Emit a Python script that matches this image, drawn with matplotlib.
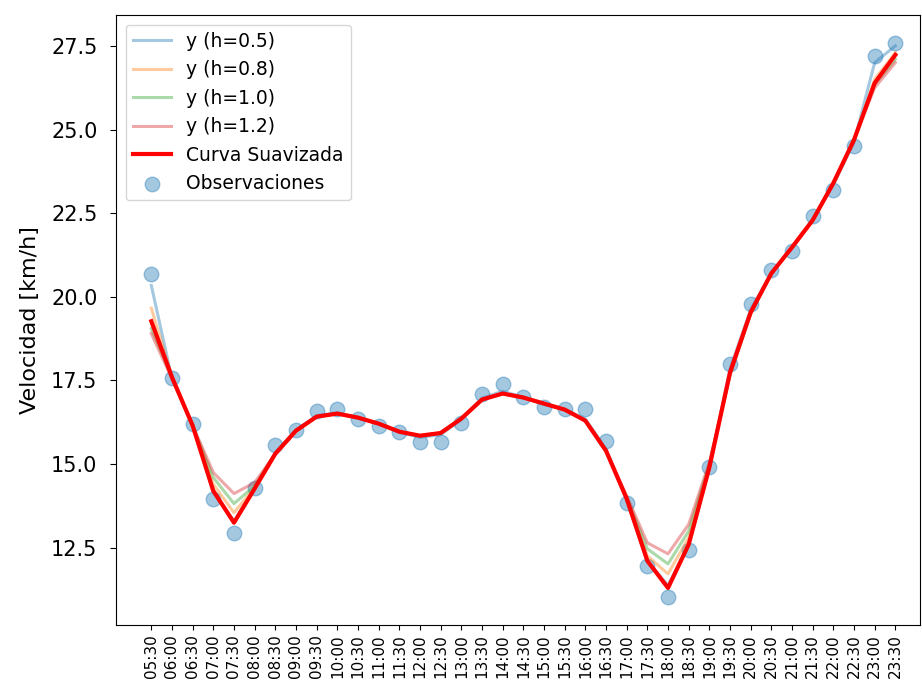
import numpy as np
import matplotlib
matplotlib.use("Agg")
import matplotlib.pyplot as plt

horas = ["05:30", "06:00", "06:30", "07:00", "07:30", "08:00", "08:30", "09:00", "09:30",
         "10:00", "10:30", "11:00", "11:30", "12:00", "12:30", "13:00", "13:30", "14:00",
         "14:30", "15:00", "15:30", "16:00", "16:30", "17:00", "17:30", "18:00", "18:30",
         "19:00", "19:30", "20:00", "20:30", "21:00", "21:30", "22:00", "22:30", "23:00",
         "23:30"]

obs = [20.67, 17.56, 16.21, 13.97, 12.95, 14.30, 15.58, 16.03, 16.60, 16.66, 16.36, 16.15,
       15.97, 15.67, 15.67, 16.24, 17.11, 17.41, 17.02, 16.72, 16.66, 16.66, 15.70, 13.85,
       11.96, 11.03, 12.44, 14.90, 17.98, 19.78, 20.79, 21.36, 22.41, 23.19, 24.51, 27.20,
       27.59]

suave = [19.27, 17.60, 16.15, 14.20, 13.25, 14.27, 15.31, 16.00, 16.42, 16.51, 16.39, 16.21,
         15.97, 15.85, 15.93, 16.36, 16.93, 17.11, 16.99, 16.81, 16.63, 16.30, 15.40, 13.97,
         12.11, 11.30, 12.60, 14.90, 17.74, 19.54, 20.70, 21.48, 22.29, 23.40, 24.69, 26.39,
         27.23]

y_h05 = [20.34, 17.55, 16.18, 14.15, 13.30, 14.27, 15.35, 16.02, 16.45, 16.54, 16.38, 16.20,
         15.95, 15.80, 15.88, 16.34, 16.97, 17.18, 17.00, 16.78, 16.64, 16.35, 15.45, 13.92,
         12.10, 11.38, 12.58, 14.90, 17.85, 19.62, 20.72, 21.45, 22.32, 23.35, 24.62, 27.00,
         27.50]

y_h08 = [19.66, 17.60, 16.15, 14.40, 13.55, 14.30, 15.31, 16.00, 16.42, 16.51, 16.39, 16.21,
         15.97, 15.85, 15.93, 16.36, 16.93, 17.11, 16.99, 16.81, 16.63, 16.30, 15.40, 13.97,
         12.26, 11.72, 12.80, 14.95, 17.70, 19.52, 20.70, 21.48, 22.29, 23.40, 24.69, 26.50,
         27.30]

y_h10 = [19.05, 17.60, 16.15, 14.60, 13.82, 14.35, 15.31, 16.00, 16.42, 16.51, 16.39, 16.21,
         15.97, 15.85, 15.93, 16.36, 16.93, 17.11, 16.99, 16.81, 16.63, 16.30, 15.40, 14.00,
         12.47, 12.02, 13.00, 15.00, 17.68, 19.50, 20.70, 21.48, 22.29, 23.40, 24.69, 26.35,
         27.10]

y_h12 = [18.90, 17.55, 16.15, 14.75, 14.12, 14.45, 15.31, 16.00, 16.42, 16.51, 16.39, 16.21,
         15.97, 15.85, 15.93, 16.36, 16.93, 17.11, 16.99, 16.81, 16.63, 16.30, 15.40, 14.05,
         12.65, 12.32, 13.20, 15.05, 17.65, 19.48, 20.70, 21.48, 22.29, 23.40, 24.69, 26.25,
         27.00]

x = np.arange(len(horas))

fig, ax = plt.subplots(figsize=(9.22, 6.88), dpi=100)
fig.subplots_adjust(left=0.126, right=0.998, top=0.978, bottom=0.092)

ax.plot(x, y_h05, color="tab:blue", alpha=0.4, lw=2.2, label="y (h=0.5)")
ax.plot(x, y_h08, color="tab:orange", alpha=0.4, lw=2.2, label="y (h=0.8)")
ax.plot(x, y_h10, color="tab:green", alpha=0.4, lw=2.2, label="y (h=1.0)")
ax.plot(x, y_h12, color="tab:red", alpha=0.4, lw=2.2, label="y (h=1.2)")
ax.plot(x, suave, color="red", lw=3, label="Curva Suavizada")
ax.scatter(x, obs, s=110, color="tab:blue", alpha=0.4, label="Observaciones")

ax.set_xlim(-1.7, 37.2)
ax.set_xticks(x)
ax.set_xticklabels(horas, rotation=90, fontsize=11)
ax.tick_params(axis="y", labelsize=15, length=4.5, pad=9)
ax.set_ylabel("Velocidad [km/h]", fontsize=16, labelpad=8)
ax.legend(loc="upper left", fontsize=13.5)

fig.savefig("out.png")
